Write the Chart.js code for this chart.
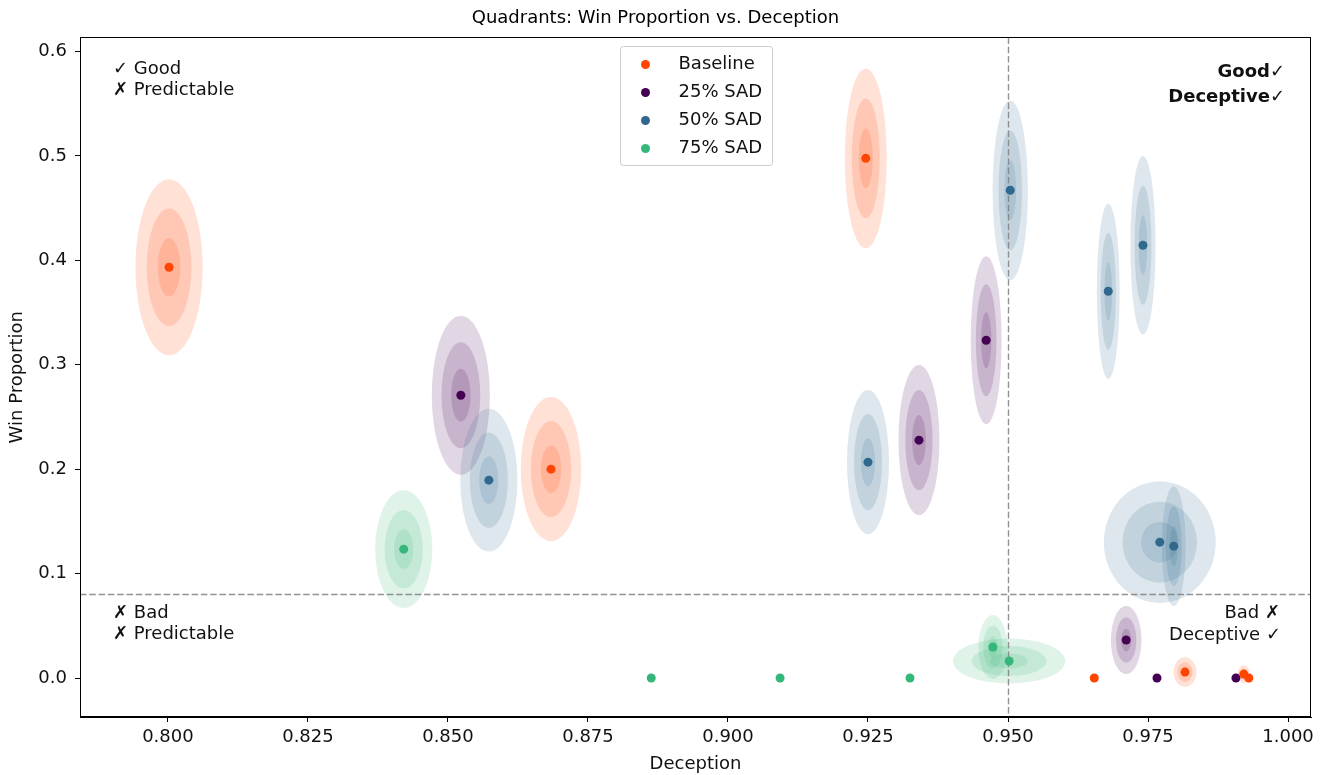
<!DOCTYPE html>
<html>
<head>
<meta charset="utf-8">
<title>Quadrants: Win Proportion vs. Deception</title>
<script src="https://cdn.jsdelivr.net/npm/chart.js@4.4.1/dist/chart.umd.min.js"></script>
<style>
  html, body { margin: 0; padding: 0; background: #ffffff; }
</style>
</head>
<body>
<canvas id="quadrants-scatter" width="1322" height="775"></canvas>
<script>
// ---- data ----
const series_names = ["Baseline", "25% SAD", "50% SAD", "75% SAD"];
const series_colours = ["#ff4500", "#440154", "#31688e", "#35b779"];

const baseline_x = [0.8002, 0.9246, 0.8684, 0.9654, 0.9816, 0.9921, 0.9930];
const baseline_y = [0.3933, 0.4976, 0.2000, 0.0000, 0.0057, 0.0038, 0.0000];
const baseline_sd_x = [0.00200, 0.00125, 0.00180, 0, 0.00068, 0.00036, 0];
const baseline_sd_y = [0.0281, 0.0287, 0.0230, 0, 0.0047, 0.0029, 0];

const sad25_x = [0.8523, 0.9341, 0.9461, 0.9711, 0.9766, 0.9907];
const sad25_y = [0.2708, 0.2278, 0.3234, 0.0364, 0.0000, 0.0000];
const sad25_sd_x = [0.00173, 0.00122, 0.00092, 0.00091, 0, 0];
const sad25_sd_y = [0.0254, 0.0240, 0.0268, 0.0109, 0, 0];

const sad50_x = [0.8573, 0.9250, 0.9504, 0.9679, 0.9741, 0.9771, 0.9796];
const sad50_y = [0.1895, 0.2067, 0.4670, 0.3703, 0.4144, 0.1301, 0.1263];
const sad50_sd_x = [0.00170, 0.00125, 0.00105, 0.00068, 0.00075, 0.00333, 0.00071];
const sad50_sd_y = [0.0228, 0.0230, 0.0287, 0.0280, 0.0285, 0.0194, 0.0191];

const sad75_x = [0.8421, 0.8863, 0.9093, 0.9325, 0.9473, 0.9502];
const sad75_y = [0.1234, 0.0000, 0.0000, 0.0000, 0.0297, 0.0163];
const sad75_sd_x = [0.00170, 0, 0, 0, 0.00086, 0.00334];
const sad75_sd_y = [0.0188, 0, 0, 0, 0.0102, 0.0072];

const x_ticks = [0.800, 0.825, 0.850, 0.875, 0.900, 0.925, 0.950, 0.975, 1.000];
const y_ticks = [0.0, 0.1, 0.2, 0.3, 0.4, 0.5, 0.6];
const x_limits = [0.7843, 1.0041];
const y_limits = [-0.0373, 0.6134];

// quadrant split
const deception_cut = 0.95;
const win_cut = 0.08;

const all_x = [baseline_x, sad25_x, sad50_x, sad75_x];
const all_y = [baseline_y, sad25_y, sad50_y, sad75_y];
const all_sd_x = [baseline_sd_x, sad25_sd_x, sad50_sd_x, sad75_sd_x];
const all_sd_y = [baseline_sd_y, sad25_sd_y, sad50_sd_y, sad75_sd_y];

const FONT = "'DejaVu Sans', 'Liberation Sans', sans-serif";
const FONT_SIZE = 18;
const SIGMA_LEVELS = [3, 2, 1];
const ELLIPSE_ALPHA = 0.16;

Chart.defaults.font.family = FONT;
Chart.defaults.color = "#000";

function rgba(hex, a) {
    const n = parseInt(hex.slice(1), 16);
    return `rgba(${(n >> 16) & 255}, ${(n >> 8) & 255}, ${n & 255}, ${a})`;
}

const quadrantPlugin = {
    id: "quadrantPlugin",
    beforeDatasetsDraw(chart) {
        const { ctx, chartArea: area, scales: { x, y } } = chart;
        ctx.save();
        ctx.beginPath();
        ctx.rect(area.left, area.top, area.width, area.height);
        ctx.clip();

        // 1, 2, 3 sigma ellipses behind each point
        all_x.forEach((xs, i) => {
            ctx.fillStyle = rgba(series_colours[i], ELLIPSE_ALPHA);
            xs.forEach((xv, j) => {
                const sx = all_sd_x[i][j], sy = all_sd_y[i][j];
                if (!sx || !sy) return;
                const yv = all_y[i][j];
                const cx = x.getPixelForValue(xv);
                const cy = y.getPixelForValue(yv);
                const rx = Math.abs(x.getPixelForValue(xv + sx) - cx);
                const ry = Math.abs(y.getPixelForValue(yv + sy) - cy);
                SIGMA_LEVELS.forEach(k => {
                    ctx.beginPath();
                    ctx.ellipse(cx, cy, rx * k, ry * k, 0, 0, Math.PI * 2);
                    ctx.fill();
                });
            });
        });

        // dashed quadrant lines
        ctx.strokeStyle = "rgba(128, 128, 128, 0.85)";
        ctx.lineWidth = 1.4;
        ctx.setLineDash([6.5, 2.8]);
        const px = Math.round(x.getPixelForValue(deception_cut)) + 0.5;
        const py = Math.round(y.getPixelForValue(win_cut)) + 0.5;
        ctx.beginPath();
        ctx.moveTo(px, area.top);
        ctx.lineTo(px, area.bottom);
        ctx.moveTo(area.left, py);
        ctx.lineTo(area.right, py);
        ctx.stroke();
        ctx.restore();
    },
    afterDraw(chart) {
        const { ctx, chartArea: area } = chart;
        ctx.save();

        // full frame (top + right spines)
        ctx.strokeStyle = "#000";
        ctx.lineWidth = 1;
        ctx.strokeRect(Math.round(area.left) + 0.5, Math.round(area.top) + 0.5,
            Math.round(area.width) - 1, Math.round(area.height) - 1);

        // quadrant notes
        ctx.fillStyle = "#111";
        ctx.textBaseline = "middle";
        ctx.font = `${FONT_SIZE}px ${FONT}`;
        ctx.textAlign = "left";
        ctx.fillText("✓ Good", area.left + 33, area.top + 32);
        ctx.fillText("✗ Predictable", area.left + 33, area.top + 53);
        ctx.fillText("✗ Bad", area.left + 33, area.bottom - 104);
        ctx.fillText("✗ Predictable", area.left + 33, area.bottom - 83);

        ctx.textAlign = "right";
        ctx.fillText("Bad ✗", area.right - 31, area.bottom - 104);
        ctx.fillText("Deceptive ✓", area.right - 30, area.bottom - 82);
        ctx.font = `bold ${FONT_SIZE}px ${FONT}`;
        ctx.fillText("Good✓", area.right - 26, area.top + 35);
        ctx.fillText("Deceptive✓", area.right - 26, area.top + 60);

        // legend, upper centre
        const box_w = 152, box_h = 119;
        const bx = Math.round((area.left + area.right) / 2 - box_w / 2) + 0.5;
        const by = Math.round(area.top + 9) + 0.5;
        ctx.fillStyle = "rgba(255, 255, 255, 0.8)";
        ctx.strokeStyle = "#cccccc";
        ctx.lineWidth = 1;
        ctx.beginPath();
        ctx.roundRect(bx, by, box_w, box_h, 3);
        ctx.fill();
        ctx.stroke();

        ctx.font = `${FONT_SIZE}px ${FONT}`;
        ctx.textAlign = "left";
        series_names.forEach((name, i) => {
            const ry = by + 18 + i * 28;
            ctx.fillStyle = series_colours[i];
            ctx.beginPath();
            ctx.arc(bx + 25, ry, 4.5, 0, Math.PI * 2);
            ctx.fill();
            ctx.fillStyle = "#111";
            ctx.fillText(name, bx + 58, ry);
        });
        ctx.restore();
    }
};

const datasets = series_names.map((name, i) => ({
    label: name,
    data: all_x[i].map((v, j) => ({ x: v, y: all_y[i][j] })),
    backgroundColor: series_colours[i],
    borderWidth: 0,
    pointRadius: 4.5,
    pointHoverRadius: 4.5
}));

const ctx = document.getElementById("quadrants-scatter").getContext("2d");

new Chart(ctx, {
    type: "scatter",
    data: { datasets },
    options: {
        responsive: false,
        animation: false,
        layout: { padding: { right: 11 } },
        plugins: {
            legend: { display: false },
            tooltip: { enabled: false },
            title: {
                display: true,
                text: "Quadrants: Win Proportion vs. Deception",
                font: { size: FONT_SIZE, weight: "normal" },
                color: "#000",
                padding: { top: 8, bottom: 7.8 }
            }
        },
        scales: {
            x: {
                type: "linear",
                min: x_limits[0],
                max: x_limits[1],
                afterBuildTicks: (scale) => { scale.ticks = x_ticks.map(v => ({ value: v })); },
                afterFit: (scale) => { scale.height = 58; },
                ticks: {
                    font: { size: FONT_SIZE },
                    color: "#111",
                    padding: 5,
                    maxRotation: 0,
                    callback: (v) => Number(v).toFixed(3)
                },
                grid: { drawOnChartArea: false, drawTicks: true, tickLength: 5, color: "#000" },
                border: { display: true, color: "#000", width: 1 },
                title: {
                    display: true,
                    text: "Deception",
                    font: { size: FONT_SIZE },
                    color: "#111",
                    padding: { top: 0, bottom: 0 }
                }
            },
            y: {
                type: "linear",
                min: y_limits[0],
                max: y_limits[1],
                afterBuildTicks: (scale) => { scale.ticks = y_ticks.map(v => ({ value: v })); },
                afterFit: (scale) => { scale.width = 80; },
                ticks: {
                    font: { size: FONT_SIZE },
                    color: "#111",
                    padding: 8,
                    callback: (v) => Number(v).toFixed(1)
                },
                grid: { drawOnChartArea: false, drawTicks: true, tickLength: 5, color: "#000" },
                border: { display: true, color: "#000", width: 1 },
                title: {
                    display: true,
                    text: "Win Proportion",
                    font: { size: FONT_SIZE },
                    color: "#111",
                    padding: { top: 7, bottom: 0 }
                }
            }
        }
    },
    plugins: [quadrantPlugin]
});
</script>
</body>
</html>
